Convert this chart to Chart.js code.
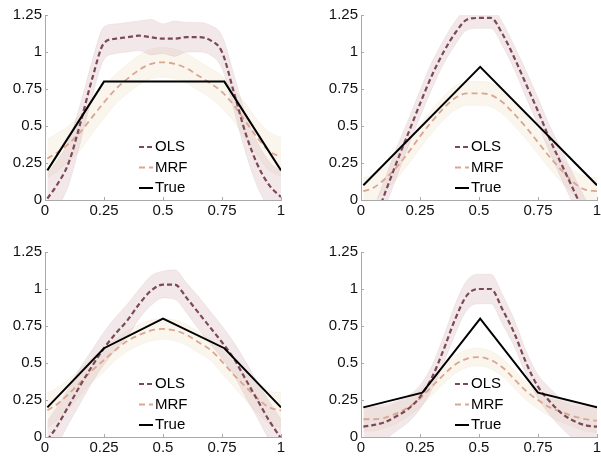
<!DOCTYPE html>
<html>
<head>
<meta charset="utf-8">
<script src="https://cdn.jsdelivr.net/npm/chart.js@4.4.1/dist/chart.umd.min.js"></script>
<style>
    html, body { margin: 0; padding: 0; background: #fff; overflow: hidden; }
    #wrap { position: relative; width: 601px; height: 457px; }
    canvas { position: absolute; }
</style>
</head>
<body>
<div id="wrap">
    <canvas id="tl" width="300" height="228" style="left:0;top:0"></canvas>
    <canvas id="tr" width="301" height="228" style="left:300px;top:0"></canvas>
    <canvas id="bl" width="300" height="229" style="left:0;top:228px"></canvas>
    <canvas id="br" width="301" height="229" style="left:300px;top:228px"></canvas>
</div>
<script>
// sample positions shared by all four panels
const xGrid = [0.01, 0.05, 0.1, 0.15, 0.2, 0.25, 0.3, 0.35, 0.4, 0.45, 0.5, 0.55, 0.6, 0.65, 0.7, 0.75, 0.8, 0.85, 0.9, 0.95, 1.0];
const xTicks = [0, 0.25, 0.5, 0.75, 1];
const yTicks = [0, 0.25, 0.5, 0.75, 1, 1.25];
const legendLabels = ['OLS', 'MRF', 'True'];

// top left
const olsTL = [0.01, 0.1, 0.25, 0.52, 0.82, 1.06, 1.09, 1.10, 1.11, 1.10, 1.09, 1.09, 1.10, 1.10, 1.08, 1.0, 0.73, 0.45, 0.24, 0.1, 0.02];
const olsSpreadTL = [0.17, 0.16, 0.15, 0.13, 0.12, 0.11, 0.1, 0.1, 0.1, 0.12, 0.1, 0.12, 0.1, 0.1, 0.1, 0.11, 0.12, 0.13, 0.15, 0.16, 0.17];
const mrfTL = [0.28, 0.32, 0.38, 0.46, 0.56, 0.66, 0.75, 0.82, 0.88, 0.92, 0.93, 0.92, 0.89, 0.84, 0.79, 0.73, 0.64, 0.53, 0.42, 0.33, 0.29];
const mrfSpreadTL = [0.13, 0.13, 0.12, 0.12, 0.11, 0.11, 0.1, 0.1, 0.1, 0.1, 0.1, 0.1, 0.1, 0.1, 0.1, 0.11, 0.11, 0.12, 0.12, 0.13, 0.13];
const trueXTL = [0.01, 0.25, 0.76, 1];
const trueYTL = [0.2, 0.8, 0.8, 0.2];

// top right
const olsTR = [-0.26, -0.17, 0.04, 0.25, 0.45, 0.65, 0.84, 1.0, 1.13, 1.22, 1.23, 1.23, 1.12, 0.96, 0.78, 0.6, 0.41, 0.24, 0.07, -0.1, -0.25];
const olsSpreadTR = [0.12, 0.11, 0.1, 0.1, 0.09, 0.09, 0.09, 0.08, 0.08, 0.07, 0.07, 0.07, 0.08, 0.08, 0.09, 0.09, 0.09, 0.1, 0.1, 0.11, 0.12];
const mrfTR = [0.06, 0.08, 0.14, 0.22, 0.32, 0.43, 0.53, 0.62, 0.69, 0.72, 0.72, 0.71, 0.66, 0.58, 0.49, 0.39, 0.29, 0.2, 0.12, 0.07, 0.06];
const mrfSpreadTR = [0.09, 0.09, 0.08, 0.08, 0.08, 0.08, 0.08, 0.08, 0.08, 0.08, 0.08, 0.08, 0.08, 0.08, 0.08, 0.08, 0.08, 0.08, 0.08, 0.09, 0.09];
const trueXTR = [0.01, 0.505, 1];
const trueYTR = [0.1, 0.9, 0.1];

// bottom left
const olsBL = [-0.02, 0.07, 0.21, 0.35, 0.48, 0.6, 0.7, 0.79, 0.9, 0.99, 1.03, 1.03, 0.94, 0.84, 0.74, 0.64, 0.53, 0.39, 0.25, 0.11, -0.01];
const olsSpreadBL = [0.13, 0.13, 0.12, 0.12, 0.11, 0.11, 0.11, 0.11, 0.1, 0.1, 0.09, 0.1, 0.1, 0.11, 0.11, 0.11, 0.11, 0.12, 0.12, 0.13, 0.13];
const mrfBL = [0.18, 0.22, 0.29, 0.37, 0.45, 0.52, 0.59, 0.65, 0.69, 0.72, 0.73, 0.72, 0.69, 0.64, 0.59, 0.51, 0.42, 0.34, 0.26, 0.2, 0.18];
const mrfSpreadBL = [0.12, 0.11, 0.1, 0.09, 0.08, 0.08, 0.07, 0.07, 0.07, 0.07, 0.07, 0.07, 0.07, 0.07, 0.07, 0.08, 0.08, 0.09, 0.1, 0.11, 0.12];
const trueXBL = [0.01, 0.25, 0.5, 0.76, 1];
const trueYBL = [0.2, 0.6, 0.8, 0.6, 0.2];

// bottom right
const olsBR = [0.07, 0.08, 0.1, 0.14, 0.19, 0.27, 0.4, 0.59, 0.8, 0.96, 1.0, 1.0, 0.86, 0.7, 0.5, 0.34, 0.24, 0.16, 0.11, 0.08, 0.07];
const olsSpreadBR = [0.14, 0.13, 0.12, 0.1, 0.09, 0.08, 0.08, 0.09, 0.1, 0.1, 0.1, 0.1, 0.1, 0.09, 0.08, 0.08, 0.09, 0.1, 0.12, 0.13, 0.14];
const mrfBR = [0.12, 0.12, 0.13, 0.16, 0.2, 0.26, 0.34, 0.42, 0.49, 0.53, 0.54, 0.52, 0.47, 0.39, 0.31, 0.25, 0.2, 0.17, 0.14, 0.12, 0.11];
const mrfSpreadBR = [0.08, 0.08, 0.07, 0.07, 0.06, 0.06, 0.06, 0.06, 0.06, 0.06, 0.06, 0.06, 0.06, 0.06, 0.06, 0.06, 0.06, 0.07, 0.07, 0.08, 0.08];
const trueXBR = [0.01, 0.26, 0.505, 0.75, 1];
const trueYBR = [0.2, 0.3, 0.8, 0.3, 0.2];

const OLS_COLOR = '#7d4858';
const MRF_COLOR = '#d9a690';
const OLS_BAND = 'rgba(195, 150, 158, 0.22)';
const OLS_EDGE = 'rgba(190, 145, 152, 0.25)';
const MRF_BAND = 'rgba(235, 222, 190, 0.26)';
const MRF_EDGE = 'rgba(230, 215, 180, 0.35)';
const AXIS_COLOR = '#a9a9a9';
const FONT = 'Liberation Sans, Arial, Helvetica, sans-serif';

const pts = (xs, ys) => xs.map((x, i) => ({ x: x, y: ys[i] }));
const shifted = (ys, sp, sign) => ys.map((y, i) => y + sign * sp[i]);

// small inward tick marks and the in-plot legend
const decor = {
    id: 'decor',
    afterDatasetsDraw(chart) {
        const { ctx, chartArea: a, scales: { x, y } } = chart;
        ctx.save();
        ctx.strokeStyle = AXIS_COLOR;
        ctx.lineWidth = 1;
        ctx.beginPath();
        xTicks.forEach((v) => {
            const px = Math.round(x.getPixelForValue(v)) + 0.5;
            ctx.moveTo(px, a.bottom);
            ctx.lineTo(px, a.bottom - 3);
        });
        yTicks.forEach((v) => {
            const py = Math.round(y.getPixelForValue(v)) + 0.5;
            ctx.moveTo(a.left, py);
            ctx.lineTo(a.left + 3, py);
        });
        ctx.stroke();

        ctx.font = '15px ' + FONT;
        ctx.textBaseline = 'middle';
        ctx.fillStyle = '#000';
        legendLabels.forEach((label, i) => {
            const ds = chart.data.datasets.find((d) => d.label === label);
            const yy = a.top + 132 + i * 20.5;
            ctx.strokeStyle = ds.borderColor;
            ctx.lineWidth = ds.borderWidth;
            ctx.setLineDash(ds.borderDash || []);
            ctx.beginPath();
            ctx.moveTo(a.left + 94, yy);
            ctx.lineTo(a.left + 108, yy);
            ctx.stroke();
            ctx.setLineDash([]);
            ctx.fillText(label, a.left + 110, yy);
        });
        ctx.restore();
    },
};

function panel(id, ols, olsSp, mrf, mrfSp, tx, ty, pad, yW, xH) {
    const line = { pointRadius: 0, fill: false, clip: 0, cubicInterpolationMode: 'monotone' };
    new Chart(document.getElementById(id), {
        type: 'line',
        data: {
            datasets: [
                { ...line, label: 'True', data: pts(tx, ty), borderColor: '#000', borderWidth: 2, cubicInterpolationMode: 'default', tension: 0 },
                { ...line, label: 'OLS', data: pts(xGrid, ols), borderColor: OLS_COLOR, borderWidth: 2.2, borderDash: [5, 3] },
                { ...line, label: 'MRF', data: pts(xGrid, mrf), borderColor: MRF_COLOR, borderWidth: 1.8, borderDash: [6, 4] },
                { ...line, label: 'olsLo', data: pts(xGrid, shifted(ols, olsSp, -1)), borderColor: OLS_EDGE, borderWidth: 0.6 },
                { ...line, label: 'olsHi', data: pts(xGrid, shifted(ols, olsSp, 1)), borderColor: OLS_EDGE, borderWidth: 0.6, fill: 3, backgroundColor: OLS_BAND },
                { ...line, label: 'mrfLo', data: pts(xGrid, shifted(mrf, mrfSp, -1)), borderColor: MRF_EDGE, borderWidth: 0.6 },
                { ...line, label: 'mrfHi', data: pts(xGrid, shifted(mrf, mrfSp, 1)), borderColor: MRF_EDGE, borderWidth: 0.6, fill: 5, backgroundColor: MRF_BAND },
            ],
        },
        options: {
            responsive: false,
            animation: false,
            devicePixelRatio: 1,
            layout: { padding: pad },
            plugins: { legend: { display: false }, tooltip: { enabled: false } },
            scales: {
                x: {
                    type: 'linear',
                    min: 0,
                    max: 1,
                    afterBuildTicks: (s) => { s.ticks = xTicks.map((v) => ({ value: v })); },
                    afterFit: (s) => { s.height = xH; s.paddingLeft = 0; s.paddingRight = 0; },
                    grid: { display: false, drawTicks: false },
                    border: { display: true, color: AXIS_COLOR, width: 1 },
                    ticks: { color: '#111', padding: 2, maxRotation: 0, autoSkip: false, font: { family: FONT, size: 15 }, callback: (v) => String(v) },
                },
                y: {
                    min: 0,
                    max: 1.25,
                    afterBuildTicks: (s) => { s.ticks = yTicks.map((v) => ({ value: v })); },
                    afterFit: (s) => { s.width = yW; s.paddingTop = 0; s.paddingBottom = 0; },
                    grid: { display: false, drawTicks: false },
                    border: { display: true, color: AXIS_COLOR, width: 1 },
                    ticks: { color: '#111', padding: 3, autoSkip: false, font: { family: FONT, size: 15 }, callback: (v) => String(v) },
                },
            },
        },
        plugins: [decor],
    });
}

panel('tl', olsTL, olsSpreadTL, mrfTL, mrfSpreadTL, trueXTL, trueYTL, { left: 0, right: 19, top: 15, bottom: 0 }, 45, 28);
panel('tr', olsTR, olsSpreadTR, mrfTR, mrfSpreadTR, trueXTR, trueYTR, { left: 0, right: 4, top: 15, bottom: 0 }, 61, 28);
panel('bl', olsBL, olsSpreadBL, mrfBL, mrfSpreadBL, trueXBL, trueYBL, { left: 0, right: 19, top: 24, bottom: 0 }, 45, 20);
panel('br', olsBR, olsSpreadBR, mrfBR, mrfSpreadBR, trueXBR, trueYBR, { left: 0, right: 4, top: 24, bottom: 0 }, 61, 20);
</script>
</body>
</html>
